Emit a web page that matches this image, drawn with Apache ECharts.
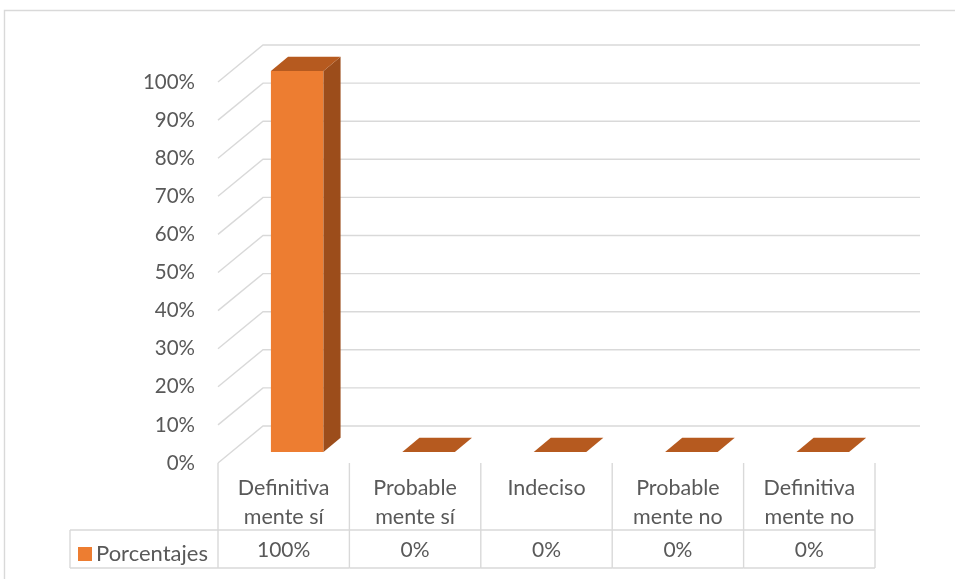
<!DOCTYPE html>
<html>
<head>
<meta charset="utf-8">
<script src="https://cdn.jsdelivr.net/npm/echarts@6/dist/echarts.min.js"></script>
<style>
  html, body { margin: 0; padding: 0; background: #ffffff; }
  #chart { width: 955px; height: 579px; }
</style>
</head>
<body>
<div id="chart"></div>
<script>
// Survey answers and their share of responses (percent)
var categories = ['Definitiva\nmente sí', 'Probable\nmente sí', 'Indeciso', 'Probable\nmente no', 'Definitiva\nmente no'];
var seriesName = 'Porcentajes';
var values = [100, 0, 0, 0, 0];
var yTicks = [0, 10, 20, 30, 40, 50, 60, 70, 80, 90, 100];

var FONT = 'Lato, "Open Sans", sans-serif';
var TEXT = '#595959';
var LINE = '#D9D9D9';
// depth vector of the pseudo-3D box (front plane -> back wall)
var DEPTH_X = 45, DEPTH_Y = -37;
// bar sits between these fractions of the depth
var BAR_F0 = 0.3, BAR_F1 = 0.68;
var BAR_W = 0.40;

var chart = echarts.init(document.getElementById('chart'));

function bandInfo(api) {
  var band = api.size([1, 0])[0];
  var left = api.coord([0, 0])[0] - band / 2;
  var right = api.coord([categories.length - 1, 0])[0] + band / 2;
  return { band: band, left: left, right: right };
}

// back wall + side wall gridlines
function renderGrid(params, api) {
  var b = bandInfo(api);
  var y = api.coord([0, api.value(1)])[1];
  return {
    type: 'polyline',
    shape: { points: [[b.left, y], [b.left + DEPTH_X, y + DEPTH_Y], [b.right + DEPTH_X, y + DEPTH_Y]] },
    style: { stroke: LINE, lineWidth: 1.4, fill: null },
    silent: true
  };
}

// pseudo-3D column
function renderBar(params, api) {
  var i = api.value(0);
  var v = api.value(1);
  var b = bandInfo(api);
  var c = api.coord([i, 0]);
  var top = api.coord([i, v])[1];
  var w = b.band * BAR_W;
  var fx = DEPTH_X * BAR_F0, fy = DEPTH_Y * BAR_F0;
  var dx = DEPTH_X * (BAR_F1 - BAR_F0), dy = DEPTH_Y * (BAR_F1 - BAR_F0);
  var x0 = c[0] - w / 2 + fx, x1 = c[0] + w / 2 + fx;
  var yb = c[1] + fy, yt = top + fy;
  var children = [];
  if (yb - yt > 0.5) {
    children.push({ type: 'polygon', shape: { points: [[x0, yb], [x1, yb], [x1, yt], [x0, yt]] }, style: { fill: '#ED7D31' } });
    children.push({ type: 'polygon', shape: { points: [[x1, yb], [x1 + dx, yb + dy], [x1 + dx, yt + dy], [x1, yt]] }, style: { fill: '#9C4D1B' } });
  }
  children.push({ type: 'polygon', shape: { points: [[x0, yt], [x1, yt], [x1 + dx, yt + dy], [x0 + dx, yt + dy]] }, style: { fill: '#B65A1F' } });
  return { type: 'group', children: children };
}

// data table cells under each category
function renderTable(params, api) {
  var i = api.value(0);
  var v = api.value(1);
  var b = bandInfo(api);
  var c = api.coord([i, 0]);
  var xl = c[0] - b.band / 2, xr = c[0] + b.band / 2;
  var y0 = c[1], ym = c[1] + 67, y1 = c[1] + 105;
  var ls = { stroke: LINE, lineWidth: 1.4 };
  var children = [
    { type: 'line', shape: { x1: xl, y1: y0, x2: xl, y2: y1 }, style: ls },
    { type: 'line', shape: { x1: xl, y1: ym, x2: xr, y2: ym }, style: ls },
    { type: 'line', shape: { x1: xl, y1: y1, x2: xr, y2: y1 }, style: ls },
    { type: 'text', x: c[0], y: (ym + y1) / 2 + 1,
      style: { text: v + '%', fill: TEXT, font: '21px ' + FONT, align: 'center', verticalAlign: 'middle' } }
  ];
  if (i === categories.length - 1) {
    children.push({ type: 'line', shape: { x1: xr, y1: y0, x2: xr, y2: y1 }, style: ls });
  }
  if (i === 0) {
    // legend cell frame
    children.push({ type: 'line', shape: { x1: 70, y1: ym, x2: xl, y2: ym }, style: ls });
    children.push({ type: 'line', shape: { x1: 70, y1: y1, x2: xl, y2: y1 }, style: ls });
    children.push({ type: 'line', shape: { x1: 70, y1: ym, x2: 70, y2: y1 }, style: ls });
  }
  return { type: 'group', children: children };
}

var barData = values.map(function (v, i) { return [i, v]; });

chart.setOption({
  animation: false,
  backgroundColor: '#ffffff',
  color: ['#ED7D31'],
  grid: { left: 218, right: 80, top: 82, bottom: 116 },
  legend: {
    data: [seriesName],
    left: 73, top: 538,
    itemWidth: 14, itemHeight: 14, itemGap: 6,
    icon: 'rect',
    textStyle: { color: TEXT, fontSize: 22, fontFamily: FONT, padding: [0, 0, 0, -1] }
  },
  xAxis: {
    type: 'category',
    data: categories,
    axisLine: { show: false },
    axisTick: { show: false },
    splitLine: { show: false },
    axisLabel: { color: TEXT, fontSize: 21.5, fontFamily: FONT, lineHeight: 29, margin: 11, interval: 0 }
  },
  yAxis: {
    type: 'value',
    min: 0, max: 100, interval: 10,
    axisLine: { show: false },
    axisTick: { show: false },
    splitLine: { show: false },
    axisLabel: { color: TEXT, fontSize: 20.5, fontFamily: FONT, margin: 23, formatter: '{value}%' }
  },
  graphic: [{
    type: 'rect', silent: true, z: -10,
    shape: { x: 4.5, y: 10.5, width: 1000, height: 700 },
    style: { fill: null, stroke: LINE, lineWidth: 1.4 }
  }],
  series: [
    {
      type: 'custom', name: 'grid', silent: true, clip: false, z: 1,
      renderItem: renderGrid,
      data: yTicks.map(function (t) { return [0, t]; }),
      encode: { x: 0, y: 1 }
    },
    {
      type: 'custom', name: seriesName, clip: false, z: 3,
      renderItem: renderBar,
      data: barData,
      encode: { x: 0, y: 1 }
    },
    {
      type: 'custom', name: 'table', silent: true, clip: false, z: 2,
      renderItem: renderTable,
      data: barData,
      encode: { x: 0, y: 1 }
    }
  ]
});
</script>
</body>
</html>
